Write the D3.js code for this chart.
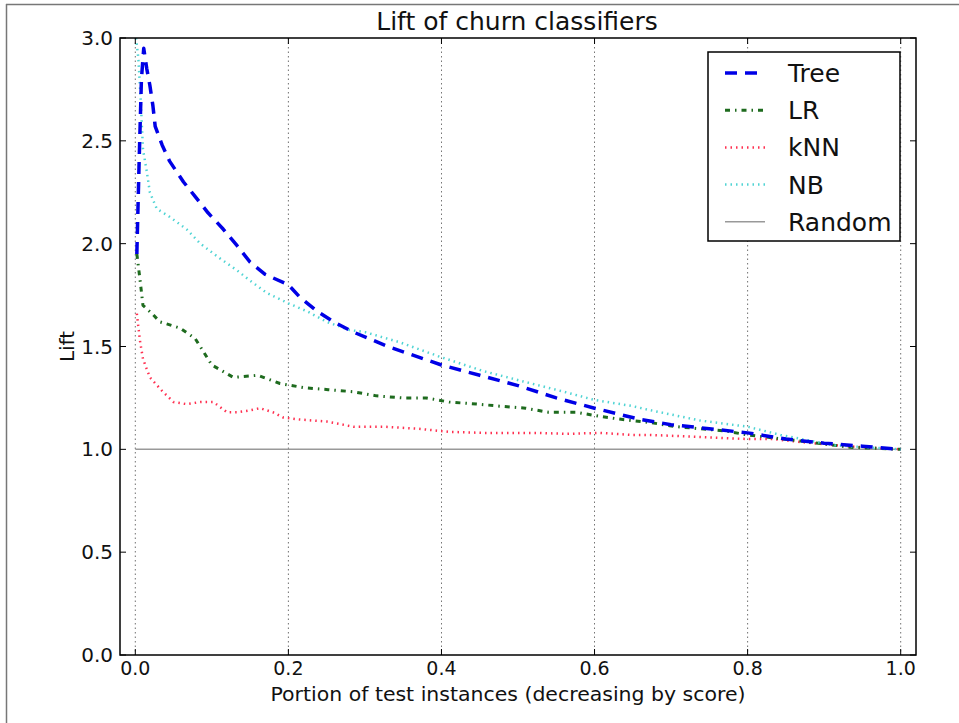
<!DOCTYPE html>
<html><head><meta charset="utf-8">
<script src="https://cdn.jsdelivr.net/npm/d3@7/dist/d3.min.js"></script>
<style>body{margin:0;background:#fff;}svg{display:block;font-family:"DejaVu Sans",sans-serif;}</style>
</head><body><svg id="c" width="959" height="723"></svg>
<script>
const title = "Lift of churn classifiers";
const xLabel = "Portion of test instances (decreasing by score)";
const yLabel = "Lift";
const xTicks = [0.0, 0.2, 0.4, 0.6, 0.8, 1.0];
const yTicks = [0.0, 0.5, 1.0, 1.5, 2.0, 2.5, 3.0];
const seriesNames = ["Tree", "LR", "kNN", "NB", "Random"];

const treeX = [0.002,0.005,0.008,0.011,0.015,0.019,0.023,0.026,0.035,0.045,0.063,0.078,0.095,0.115,0.133,0.15,0.17,0.2,0.215,0.238,0.259,0.285,0.33,0.4,0.45,0.5,0.55,0.6,0.66,0.7,0.75,0.8,0.85,0.9,0.95,1.0];
const treeY = [1.95,2.4,2.8,2.95,2.85,2.77,2.67,2.57,2.48,2.4,2.3,2.23,2.15,2.07,1.99,1.91,1.85,1.8,1.74,1.67,1.62,1.57,1.5,1.41,1.36,1.31,1.25,1.2,1.145,1.12,1.1,1.08,1.05,1.03,1.015,1.0];

const lrX = [0.002,0.006,0.01,0.022,0.032,0.058,0.078,0.1,0.128,0.16,0.189,0.22,0.252,0.285,0.315,0.35,0.38,0.41,0.446,0.476,0.51,0.54,0.577,0.607,0.637,0.673,0.707,0.77,0.8,0.87,0.934,1.0];
const lrY = [1.95,1.83,1.7,1.66,1.62,1.59,1.54,1.41,1.35,1.36,1.32,1.3,1.29,1.28,1.26,1.25,1.25,1.23,1.22,1.21,1.2,1.18,1.18,1.16,1.145,1.13,1.11,1.09,1.07,1.04,1.01,1.0];

const knnX = [0.002,0.006,0.01,0.019,0.036,0.05,0.067,0.085,0.102,0.12,0.133,0.15,0.163,0.18,0.193,0.215,0.25,0.285,0.325,0.37,0.41,0.455,0.49,0.525,0.563,0.607,0.65,0.673,0.738,0.8,0.833,0.87,0.93,1.0];
const knnY = [1.66,1.53,1.44,1.35,1.28,1.23,1.22,1.23,1.23,1.18,1.18,1.19,1.2,1.18,1.155,1.145,1.135,1.11,1.11,1.1,1.085,1.08,1.08,1.08,1.075,1.08,1.07,1.07,1.06,1.05,1.05,1.035,1.015,1.0];

const nbX = [0.001,0.004,0.007,0.01,0.015,0.019,0.028,0.045,0.067,0.085,0.11,0.133,0.15,0.172,0.2,0.225,0.25,0.28,0.3,0.346,0.398,0.455,0.507,0.56,0.6,0.65,0.673,0.738,0.8,0.843,0.912,1.0];
const nbY = [3.0,2.9,2.7,2.46,2.35,2.25,2.17,2.13,2.07,2.0,1.93,1.87,1.82,1.76,1.71,1.67,1.62,1.58,1.57,1.52,1.45,1.38,1.33,1.28,1.24,1.21,1.19,1.14,1.11,1.07,1.02,1.0];

const randomX = [0.0, 1.0];
const randomY = [1.0, 1.0];

const M = {l:120, r:916, t:38, b:655};
const svg = d3.select("#c");

// figure border (top & left visible)
svg.append("line").attr("x1",6).attr("y1",4.5).attr("x2",959).attr("y2",4.5).attr("stroke","#777").attr("stroke-width",1.5);
svg.append("line").attr("x1",6.5).attr("y1",4).attr("x2",6.5).attr("y2",723).attr("stroke","#777").attr("stroke-width",1.5);

const x = d3.scaleLinear().domain([-0.02,1.02]).range([M.l,M.r]);
const y = d3.scaleLinear().domain([0,3]).range([M.b,M.t]);

const g = svg.append("g");
g.selectAll(".gx").data(xTicks).enter().append("line")
  .attr("x1",d=>x(d)).attr("x2",d=>x(d)).attr("y1",M.t).attr("y2",M.b)
  .attr("stroke","#000").attr("stroke-width",0.8).attr("stroke-dasharray","1.5,3").attr("opacity",0.7);

svg.append("clipPath").attr("id","pc").append("rect")
  .attr("x",M.l).attr("y",M.t).attr("width",M.r-M.l).attr("height",M.b-M.t);

const line = d3.line().x(d=>x(d[0])).y(d=>y(d[1]));
const zip = (a,b)=>a.map((v,i)=>[v,b[i]]);
const styles = {
  Tree:{c:"#0000e6",w:3.5,da:"12,8"},
  LR:{c:"#1e6b1e",w:3,da:"5,5,1.5,5"},
  kNN:{c:"#ff3050",w:2.5,da:"1.5,4"},
  NB:{c:"#50d4d4",w:2.5,da:"1.5,4"},
  Random:{c:"#999999",w:1.5,da:null}
};
const data = {Tree:zip(treeX,treeY),LR:zip(lrX,lrY),kNN:zip(knnX,knnY),NB:zip(nbX,nbY),Random:zip(randomX,randomY)};
const pg = svg.append("g").attr("clip-path","url(#pc)");
["Random","kNN","LR","NB","Tree"].forEach(k=>{
  const s=styles[k];
  pg.append("path").attr("d",line(data[k])).attr("fill","none").attr("stroke",s.c)
    .attr("stroke-width",s.w).attr("stroke-dasharray",s.da).attr("stroke-linejoin","round");
});

svg.append("rect").attr("x",M.l).attr("y",M.t).attr("width",M.r-M.l).attr("height",M.b-M.t)
  .attr("fill","none").attr("stroke","#000").attr("stroke-width",1.5);

const tl=6;
const ax = svg.append("g");
xTicks.forEach(t=>{
  ax.append("line").attr("x1",x(t)).attr("x2",x(t)).attr("y1",M.b).attr("y2",M.b-tl).attr("stroke","#000");
  ax.append("line").attr("x1",x(t)).attr("x2",x(t)).attr("y1",M.t).attr("y2",M.t+tl).attr("stroke","#000");
});
yTicks.forEach(t=>{
  ax.append("line").attr("x1",M.l).attr("x2",M.l+tl).attr("y1",y(t)).attr("y2",y(t)).attr("stroke","#000");
  ax.append("line").attr("x1",M.r).attr("x2",M.r-tl).attr("y1",y(t)).attr("y2",y(t)).attr("stroke","#000");
});
const fmt = d3.format(".1f");
ax.selectAll(".xt").data(xTicks).enter().append("text")
  .attr("x",d=>x(d)).attr("y",M.b+20).attr("text-anchor","middle").attr("font-size",19).attr("fill","#111").text(fmt);
ax.selectAll(".yt").data(yTicks).enter().append("text")
  .attr("x",M.l-7).attr("y",d=>y(d)+7).attr("text-anchor","end").attr("font-size",20).attr("fill","#111").text(fmt);

svg.append("text").attr("x",517).attr("y",30).attr("text-anchor","middle").attr("font-size",25).attr("fill","#111").text(title);
svg.append("text").attr("x",508).attr("y",701).attr("text-anchor","middle").attr("font-size",19)
  .attr("textLength",475).attr("lengthAdjust","spacingAndGlyphs").attr("fill","#111").text(xLabel);
svg.append("text").attr("transform",`translate(74,${(M.t+M.b)/2}) rotate(-90)`).attr("text-anchor","middle").attr("font-size",20).attr("fill","#111").text(yLabel);

const lg = svg.append("g");
lg.append("rect").attr("x",708).attr("y",52).attr("width",192).attr("height",189).attr("fill","#fff").attr("stroke","#000").attr("stroke-width",1.5);
seriesNames.forEach((k,i)=>{
  const yy = 73 + i*37.2; const s=styles[k];
  lg.append("line").attr("x1",725).attr("x2",765).attr("y1",yy).attr("y2",yy).attr("stroke",s.c).attr("stroke-width",s.w).attr("stroke-dasharray",s.da);
  lg.append("text").attr("x",788).attr("y",yy+9).attr("font-size",25).attr("fill","#111").text(k);
});
</script></body></html>
